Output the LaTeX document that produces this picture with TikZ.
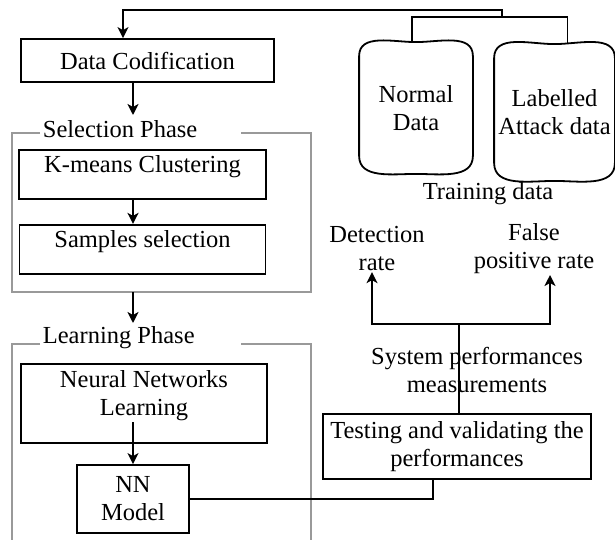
\documentclass[tikz,border=0pt]{standalone}
\usepackage{fontspec}
\setmainfont{Liberation Serif}
\usetikzlibrary{arrows.meta,positioning}

\begin{document}
\begin{tikzpicture}[
    x=0.5pt, y=-0.5pt,
    line width=0.9pt,
    font=\fontsize{12.25}{14}\selectfont,
    box/.style={draw,align=center,inner sep=0pt},
    store/.style={inner sep=0pt,align=center},
    lbl/.style={inner sep=0pt,align=center},
    frame/.style={draw=black!40,line width=0.7pt},
    arr/.style={-{Stealth[length=5.5pt,width=5.5pt,inset=1.5pt]}}
]
\useasboundingbox (0,0) rectangle (615,540);

% phase frames
\node[lbl,anchor=base west] (selt) at (42,137) {Selection Phase};
\node[lbl,anchor=base west] (learnt) at (42,343) {Learning Phase};
\draw[frame] (40,133) -| (12,292) -| (311,133) -- (241,133);
\draw[frame] (40,344) -| (12,540);
\draw[frame] (241,344) -| (311,540);

% boxes
\node[box,minimum width=126.5pt,minimum height=21.5pt] (codif) at (147.5,60.5) {Data Codification};
\node[box,minimum width=123.5pt,text height=11pt,text depth=13.5pt] (kmeans) at (142.5,174.5) {K-means Clustering};
\node[box,minimum width=123pt,text height=11.5pt,text depth=13pt,below=12pt of kmeans] (samples) {Samples selection};
\node[box,minimum width=123pt,text height=25.5pt,text depth=14pt] (nnl) at (144,403.5) {Neural Networks\\Learning};
\node[box,minimum width=56pt,minimum height=34pt] (nnmodel) at (133,499) {NN\\Model};
\node[box,minimum width=134pt,minimum height=32.5pt] (test) at (457,446.5) {Testing and validating the\\performances};

% data stores
\node[store,minimum width=56pt,minimum height=65pt] (normal) at (416,108) {Normal\\Data};
\node[store,minimum width=59.5pt,minimum height=67.5pt] (attack) at (554.5,112.5) {Labelled\\Attack data};
\foreach \n in {normal,attack}
  \draw ([yshift=-7pt]\n.north west) to[out=90,in=180] (\n.north) to[out=0,in=90] ([yshift=-7pt]\n.north east)
     -- ([yshift=9pt]\n.south east) to[out=-90,in=0] (\n.south) to[out=180,in=-90] ([yshift=9pt]\n.south west) -- cycle;

% labels
\node[lbl] (train) at (488,194) {Training data};
\node[lbl] (det) at (377,249) {Detection\\rate};
\node[lbl] (fpr) at (534,249) {False\\positive rate};
\node[lbl] (perf) at (477,370) {System performances\\measurements};

\coordinate (ax) at (133,0);
\coordinate (top) at (502,10);
\coordinate (join) at (502,17);
\coordinate (selin) at (133,115);
\coordinate (selout) at (133,292);
\coordinate (learnin) at (133,323);
\coordinate (split) at (459,324);

% connectors
\draw[arr] (join) -- (top) -| ([xshift=-12.25pt]codif.north);
\draw ([xshift=-2pt]normal.north) |- (join) -| ([xshift=6.5pt]attack.north);
\draw[arr] (codif.south -| ax) -- (selin);
\draw[arr] (kmeans.south -| ax) -- (samples.north -| ax);
\draw[arr] (selout) -- (learnin);
\draw[arr] (ax |- nnl.center) ++(0,18.5) -- (nnmodel.north);
\draw (nnmodel.east) -| ([xshift=-12pt]test.south);
\draw (test.north -| split) -- (split);
\draw[arr] (split) -| ([xshift=-2.5pt]det.south);
\draw[arr] (split) -| ([xshift=8pt]fpr.south);
\end{tikzpicture}
\end{document}
